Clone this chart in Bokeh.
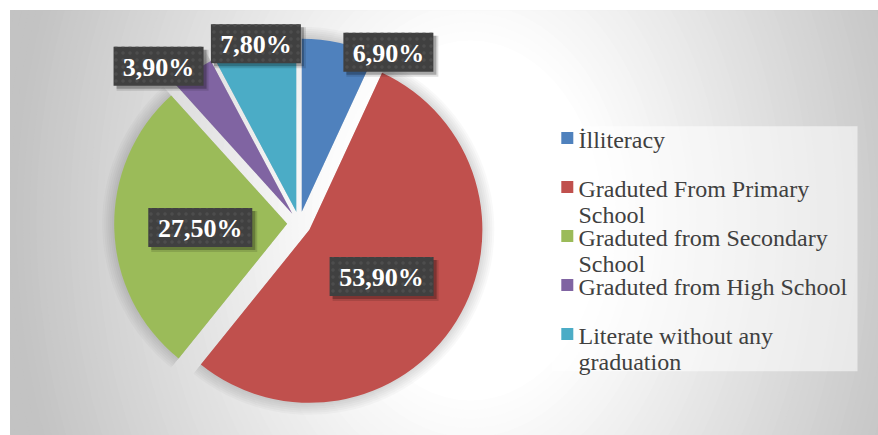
import textwrap
import numpy as np
from bokeh.plotting import figure
from bokeh.models import Range1d
from bokeh.core.properties import value
from bokeh.embed import file_html
from bokeh.resources import INLINE

# ---- data ----
categories = ["İlliteracy", "Graduted From Primary School",
              "Graduted from Secondary School", "Graduted from High School",
              "Literate without any graduation"]
shares = [6.9, 53.9, 27.5, 3.9, 7.8]
colors = ["#4F81BD", "#C0504D", "#9BBB59", "#8064A2", "#4BACC6"]

# ---- layout ----
W, H = 878, 435
p = figure(width=W, height=H, output_backend="svg", toolbar_location=None,
           x_range=Range1d(10, 878), y_range=Range1d(0, 425),
           min_border_left=10, min_border_top=10, min_border_right=0, min_border_bottom=0)
p.axis.visible = False
p.grid.visible = False
p.border_fill_color = "white"
p.background_fill_color = "white"
p.outline_line_color = "#C0C0C0"

# background radial gradient (decoration)
gx, gy, Rx, Ry = 470, 215, 440, 600
ts = np.linspace(1.2, 0.3, 60)
lev = 255 - 60 * np.clip((ts - 0.3) / 0.75, 0, 1)
gcols = ["#%02x%02x%02x" % (int(l), int(l), int(l)) for l in lev]
p.ellipse(x=[gx] * len(ts), y=[gy] * len(ts), width=2 * Rx * ts, height=2 * Ry * ts,
          fill_color=gcols, line_color=None)

# pie geometry (data y = 435 - image y)
Cx, Cy, R, D = 298.7, 212.0, 173.0, 12.0
vals = np.array(shares, dtype=float)
frac = vals / vals.sum()
cum_end = np.cumsum(frac)
cum_start = cum_end - frac
mid = 2 * np.pi * (cum_start + cum_end) / 2  # clockwise from top
start_a = np.pi / 2 - 2 * np.pi * cum_start
end_a = np.pi / 2 - 2 * np.pi * cum_end
wx = Cx + D * np.sin(mid)
wy = Cy + D * np.cos(mid)

# soft halo
for k in range(1, 7):
    p.wedge(x=wx, y=wy, radius=R + 2 * k, start_angle=start_a, end_angle=end_a,
            direction="clock", fill_color="black", fill_alpha=0.022, line_color=None)

p.wedge(x=wx, y=wy, radius=R, start_angle=start_a, end_angle=end_a,
        direction="clock", fill_color=colors, line_color=None)

# data labels
lab_text = [("%.2f%%" % v).replace(".", ",") for v in shares]
lab_r = np.array([193, 98, 99, 211, 185])
lab_nudge = np.radians([15.1, 0.9, -0.7, -6.7, 0.5])
lx = Cx + lab_r * np.sin(mid + lab_nudge)
ly = Cy + lab_r * np.cos(mid + lab_nudge)
bw = np.array([20 + 14 * len(t) for t in lab_text])
bh = 39
p.rect(x=lx + 4, y=ly - 4, width=bw + 2, height=bh + 2, fill_color="black", fill_alpha=0.12, line_color=None)
p.rect(x=lx + 3, y=ly - 3, width=bw, height=bh, fill_color="black", fill_alpha=0.25, line_color=None)
p.rect(x=lx, y=ly, width=bw, height=bh, fill_color="#404040", line_color=None,
       hatch_pattern="dot", hatch_color="#4d4d4d", hatch_scale=7, hatch_weight=1.5)
p.text(x=lx, y=ly - 1, text=lab_text, text_font=value("Liberation Serif"),
       text_font_size="26px", text_font_style="bold", text_color="white",
       text_align="center", text_baseline="middle")

# legend (drawn manually)
p.rect(x=[704], y=[186.8], width=[306], height=[245], fill_color="white",
       fill_alpha=0.55, line_color=None)
sq_y = 297.5 - 49 * np.arange(len(categories))
p.rect(x=[566.8] * len(categories), y=sq_y, width=12, height=12,
       fill_color=colors, line_color=None)
tx, ty, tt = [], [], []
for i, c in enumerate(categories):
    for j, line in enumerate(textwrap.wrap(c, 25)):
        tx.append(578)
        ty.append(sq_y[i] - 1.5 - 26.7 * j)
        tt.append(line)
p.text(x=tx, y=ty, text=tt, text_font=value("Liberation Serif"),
       text_font_size="24px", text_color="#404040",
       text_align="left", text_baseline="alphabetic")

with open("out.html", "w", encoding="utf-8") as f:
    f.write(file_html(p, INLINE))
